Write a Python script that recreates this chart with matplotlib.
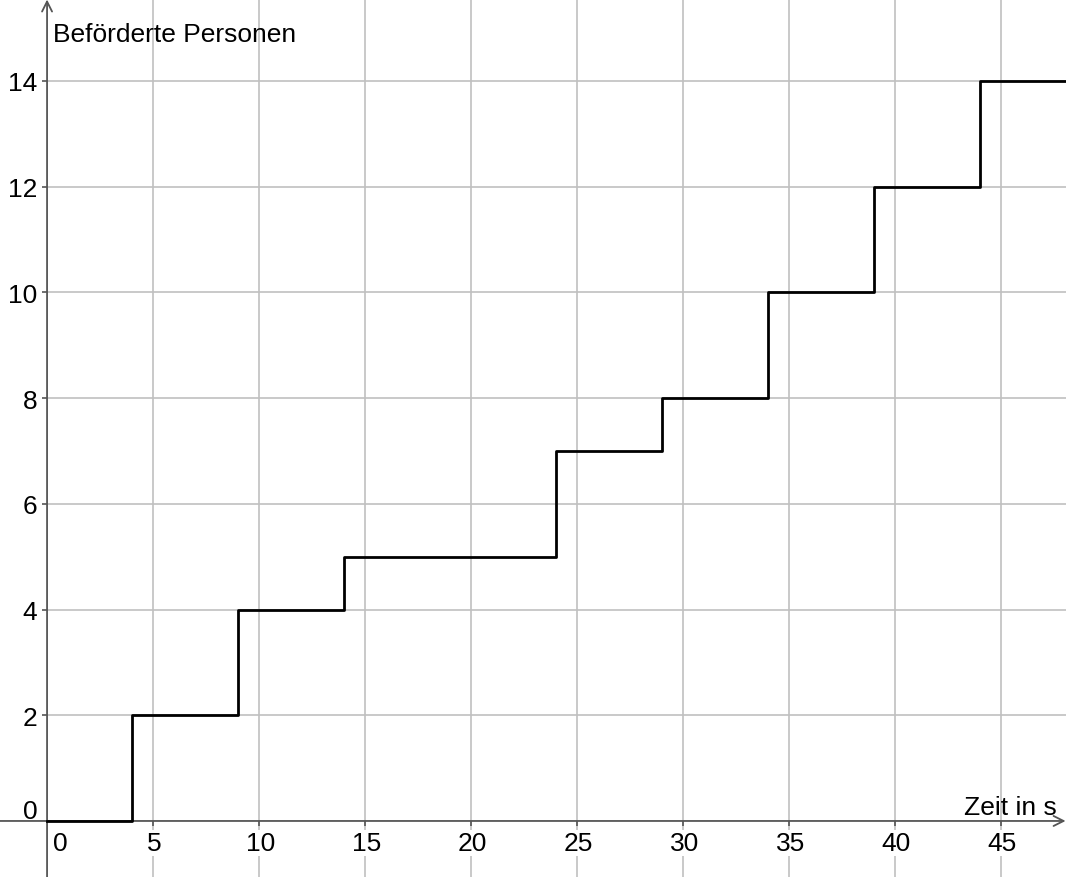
import matplotlib.pyplot as plt

plt.rcParams['font.family'] = ['Liberation Sans', 'DejaVu Sans']

# step data: time of each change (s) and persons carried from then on
times = [0, 4, 9, 14, 24, 29, 34, 39, 44, 49]
persons = [0, 2, 4, 5, 7, 8, 10, 12, 14, 14]

x_ticks = [5, 10, 15, 20, 25, 30, 35, 40, 45]
y_ticks = [2, 4, 6, 8, 10, 12, 14]

XMIN, XMAX = -2.22, 48.07
YMIN, YMAX = -1.06, 15.55

AXIS_COL = '#555555'
GRID_COL = '#c0c0c0'
FS = 19

fig = plt.figure(figsize=(10.66, 8.78), dpi=100)
ax = fig.add_axes([0, 0, 1, 1])
ax.set_xlim(XMIN, XMAX)
ax.set_ylim(YMIN, YMAX)
ax.axis('off')

# grid
ax.vlines(x_ticks, YMIN, YMAX, color=GRID_COL, lw=1.2, zorder=1)
ax.hlines(y_ticks, 0, XMAX, color=GRID_COL, lw=1.2, zorder=1)

# axes with arrow heads
ax.annotate('', xy=(XMAX - 0.02, 0), xytext=(XMIN, 0), annotation_clip=False,
            arrowprops=dict(arrowstyle='->', color=AXIS_COL, lw=1.3,
                            mutation_scale=18, shrinkA=0, shrinkB=0), zorder=3)
ax.annotate('', xy=(0, YMAX - 0.01), xytext=(0, YMIN), annotation_clip=False,
            arrowprops=dict(arrowstyle='->', color=AXIS_COL, lw=1.3,
                            mutation_scale=18, shrinkA=0, shrinkB=0), zorder=3)

# tick marks
ax.vlines(x_ticks, -0.1, 0, color=AXIS_COL, lw=1.2, zorder=3)
ax.hlines(y_ticks, -0.25, 0, color=AXIS_COL, lw=1.2, zorder=3)

# tick labels
bbox = dict(facecolor='white', edgecolor='none', pad=1)
for xt in x_ticks:
    ax.annotate(str(xt), (xt, 0), xytext=(1, -21), textcoords='offset points',
                ha='center', va='baseline', fontsize=FS, bbox=bbox, zorder=4)
ax.annotate('0', (0, 0), xytext=(9.5, -21), textcoords='offset points',
            ha='center', va='baseline', fontsize=FS, bbox=bbox, zorder=4)
for yt in y_ticks:
    ax.annotate(str(yt), (0, yt), xytext=(-7, 0), textcoords='offset points',
                ha='right', va='center_baseline', fontsize=FS, zorder=4)
ax.annotate('0', (0, 0), xytext=(-7, 9), textcoords='offset points',
            ha='right', va='center_baseline', fontsize=FS, zorder=4)

# axis titles
ax.annotate('Beförderte Personen', (0, YMAX), xytext=(4, -30), textcoords='offset points',
            ha='left', va='baseline', fontsize=FS, zorder=4)
ax.annotate('Zeit in s', (XMAX, 0), xytext=(-6.5, 5), textcoords='offset points',
            ha='right', va='baseline', fontsize=FS, zorder=4)

# step function
ax.step(times, persons, where='post', color='black', lw=2, zorder=5)

fig.savefig('out.png', dpi=100)
